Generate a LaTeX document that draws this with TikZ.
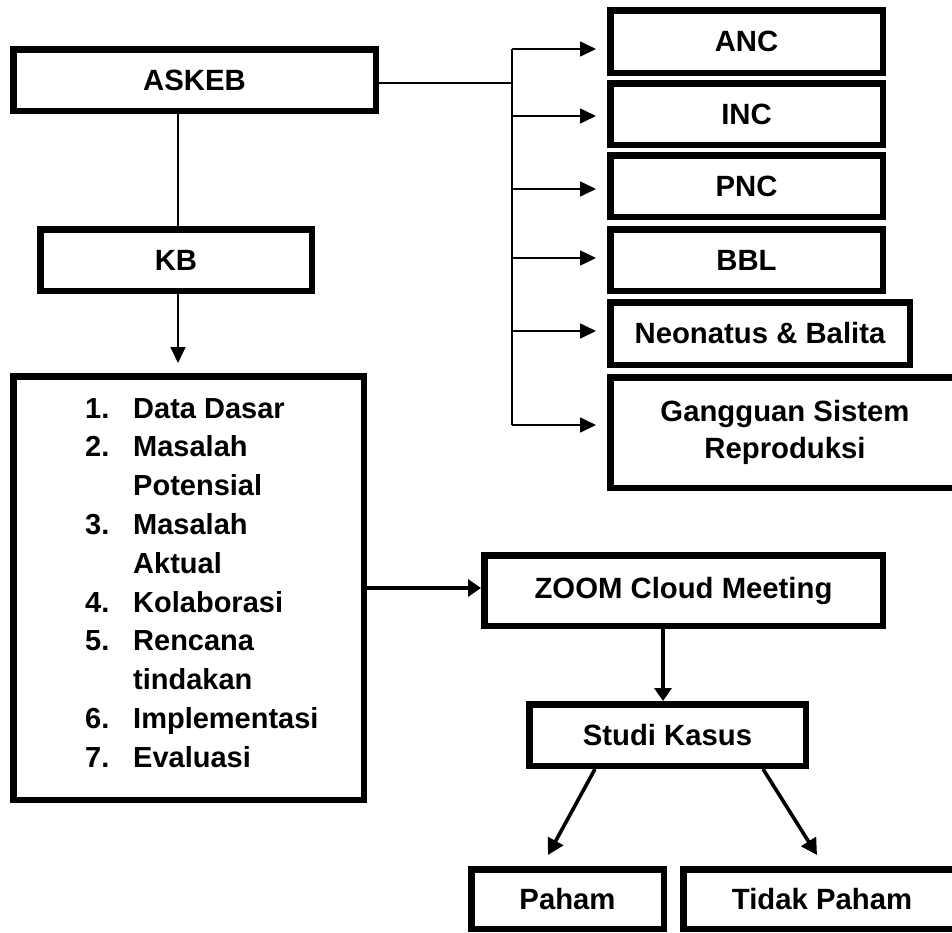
\documentclass[tikz,border=0pt]{standalone}
\usepackage{fontspec}
\setmainfont{Liberation Sans}
\usetikzlibrary{arrows.meta}
\begin{document}
\begin{tikzpicture}[x=1pt,y=-1pt,
  bx/.style={draw, line width=6.5pt, inner sep=0pt,
    font=\bfseries\fontsize{29.3}{37}\selectfont, align=center},
  thinln/.style={line width=1.6pt},
  thickln/.style={line width=3.6pt},
  tipA/.style={-{Triangle[length=16pt,width=15pt]}},
  tipB/.style={-{Triangle[length=13pt,width=17pt]}},
  tipC/.style={-{Triangle[length=16pt,width=17pt]}}]
\useasboundingbox (0,0) rectangle (952,932);
\clip (0,0) rectangle (952,932);

% left column
\node[bx, minimum width=362.5pt, minimum height=61.5pt] (askeb) at (194.5,80) {ASKEB};
\node[bx, minimum width=271.5pt, minimum height=61.5pt] (kb) at (176,260) {KB};
\node[bx, minimum width=350.5pt, minimum height=423.5pt] (list) at (188.5,588) {};
\node[anchor=north west, inner sep=0pt, font=\bfseries\fontsize{29}{38.8}\selectfont] (listtext) at (85,390.8)
  {\begin{tabular}{@{}l@{}}
   \makebox[48pt][l]{1.}Data Dasar\\
   \makebox[48pt][l]{2.}Masalah\\
   \makebox[48pt][l]{}Potensial\\
   \makebox[48pt][l]{3.}Masalah\\
   \makebox[48pt][l]{}Aktual\\
   \makebox[48pt][l]{4.}Kolaborasi\\
   \makebox[48pt][l]{5.}Rencana\\
   \makebox[48pt][l]{}tindakan\\
   \makebox[48pt][l]{6.}Implementasi\\
   \makebox[48pt][l]{7.}Evaluasi
   \end{tabular}};

% right column
\node[bx, minimum width=272.5pt, minimum height=62.5pt] (anc) at (746.5,41.5) {ANC};
\node[bx, minimum width=272.5pt, minimum height=61.5pt] (inc) at (746.5,114) {INC};
\node[bx, minimum width=272.5pt, minimum height=61.5pt] (pnc) at (746.5,186) {PNC};
\node[bx, minimum width=272.5pt, minimum height=61.5pt] (bbl) at (746.5,260) {BBL};
\node[bx, minimum width=299.5pt, minimum height=62.5pt] (neo) at (760,333.5) {Neonatus \& Balita};
\node[bx, minimum width=349.5pt, minimum height=110.5pt] (gsr) at (785,432.5) {Gangguan Sistem\\Reproduksi};

% lower part
\node[bx, minimum width=398.5pt, minimum height=70.5pt] (zoom) at (683.5,590.5) {ZOOM Cloud Meeting};
\node[bx, minimum width=276.5pt, minimum height=61.5pt] (studi) at (667.5,735) {Studi Kasus};
\node[bx, minimum width=192.5pt, minimum height=59.5pt] (paham) at (567.5,899) {Paham};
\node[bx, minimum width=277.5pt, minimum height=59.5pt] (tidak) at (822,899) {Tidak Paham};

% ASKEB -> KB -> list
\coordinate (kbtop) at ([xshift=2pt]kb.north);
\coordinate (kbbot) at ([xshift=2pt]kb.south);
\draw[thinln] (kbtop |- askeb.south) -- (kbtop);
\draw[thinln, tipA, shorten >=10pt] (kbbot) -- (kbbot |- list.north);

% bus from ASKEB to right boxes
\coordinate (bustop) at (512,49);
\coordinate (busbot) at (512,425);
\coordinate (askout) at ([yshift=-3pt]askeb.east);
\draw[thinln] (askout) -- (askout -| bustop);
\draw[thinln] (bustop) -- (busbot);
\coordinate (ancin) at ([yshift=-7.5pt]anc.west);
\coordinate (incin) at ([yshift=-2pt]inc.west);
\coordinate (pncin) at ([yshift=-3pt]pnc.west);
\coordinate (bblin) at ([yshift=2pt]bbl.west);
\coordinate (neoin) at ([yshift=2.5pt]neo.west);
\coordinate (gsrin) at ([yshift=7.5pt]gsr.west);
\foreach \t in {ancin,incin,pncin,bblin,neoin,gsrin}
  \draw[thinln, tipA, shorten >=11pt] (bustop |- \t) -- (\t);

% list -> ZOOM -> Studi
\draw[thickln, tipB] (list.east) -- (list.east -| zoom.west);
\coordinate (zs) at ([xshift=-4.5pt]studi.north);
\draw[thickln, tipB] (zs |- zoom.south) -- (zs);

% Studi -> Paham / Tidak Paham
\coordinate (sa) at ([xshift=-72.5pt]studi.south);
\coordinate (sb) at ([xshift=95.5pt]studi.south);
\coordinate (pl) at (548,855);
\coordinate (tl) at (817,855);
\draw[thickln, tipC] (sa) -- (pl);
\draw[thickln, tipC] (sb) -- (tl);
\end{tikzpicture}
\end{document}
